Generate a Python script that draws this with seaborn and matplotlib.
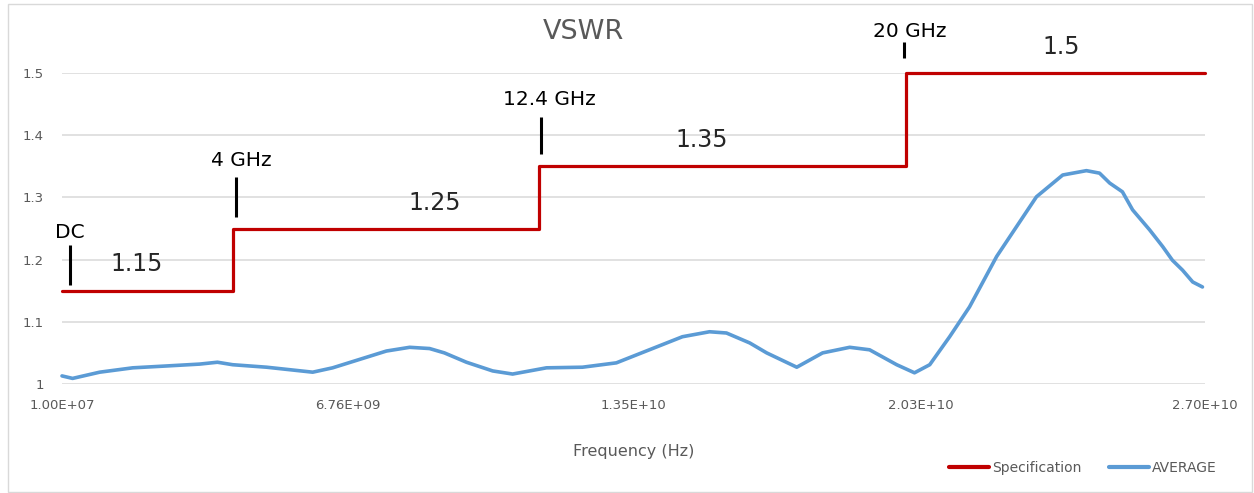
import matplotlib
matplotlib.use("Agg")
import matplotlib.pyplot as plt
import seaborn as sns
import pandas as pd
from matplotlib.patches import Rectangle

# ---- data ----
spec_freq = [1.0e7, 4.05e9, 11.27e9, 19.94e9, 2.70e10]
spec_vswr = [1.15, 1.25, 1.35, 1.50, 1.50]

avg_freq_ghz = [0.01, 0.26, 0.90, 1.68, 2.48, 3.26, 3.68, 4.04, 4.84, 5.93, 6.40,
                7.20, 7.67, 8.22, 8.69, 9.04, 9.56, 10.18, 10.65, 11.45, 12.30,
                13.10, 13.88, 14.66, 15.30, 15.70, 16.25, 16.65, 17.36, 17.97,
                18.61, 19.08, 19.72, 20.14, 20.50, 20.97, 21.44, 22.08, 22.55,
                23.02, 23.64, 24.20, 24.51, 24.75, 25.05, 25.29, 25.69, 26.00,
                26.23, 26.47, 26.71, 26.94]
avg_vswr = [1.013, 1.009, 1.019, 1.026, 1.029, 1.032, 1.035, 1.031, 1.027, 1.019, 1.026,
            1.043, 1.053, 1.059, 1.057, 1.050, 1.035, 1.021, 1.016, 1.026, 1.027,
            1.034, 1.055, 1.076, 1.084, 1.082, 1.066, 1.050, 1.027, 1.050,
            1.059, 1.055, 1.031, 1.018, 1.031, 1.076, 1.124, 1.205, 1.253,
            1.301, 1.336, 1.343, 1.339, 1.323, 1.309, 1.280, 1.248, 1.221,
            1.199, 1.183, 1.164, 1.156]

xtick_vals = [1.0e7, 6.76e9, 1.35e10, 2.03e10, 2.70e10]
xtick_labels = ["1.00E+07", "6.76E+09", "1.35E+10", "2.03E+10", "2.70E+10"]
ytick_vals = [1.0, 1.1, 1.2, 1.3, 1.4, 1.5]
ytick_labels = ["1", "1.1", "1.2", "1.3", "1.4", "1.5"]

band_labels = ["DC", "4 GHz", "12.4 GHz", "20 GHz"]
band_label_x = [0.19e9, 4.25e9, 11.52e9, 20.02e9]
band_label_y = [1.243, 1.359, 1.458, 1.566]
band_tick_x = [0.19e9, 4.13e9, 11.33e9, 19.90e9]
band_tick_y0 = [1.159, 1.268, 1.370, 1.524]
band_tick_y1 = [1.2235, 1.333, 1.429, 1.550]

limit_labels = ["1.15", "1.25", "1.35", "1.5"]
limit_x = [1.77e9, 8.81e9, 15.11e9, 23.61e9]
limit_y = [1.193, 1.291, 1.392, 1.542]

RED = "#C00000"
BLUE = "#5B9BD5"
GRAY = "#595959"

sns.set_theme(style="white")
plt.rcParams["font.family"] = ["DejaVu Sans"]

fig = plt.figure(figsize=(12.54, 4.93), dpi=100)
ax = fig.add_axes([62 / 1254, 1 - 384 / 493, (1205 - 62) / 1254, (384 - 73) / 493])

spec_df = pd.DataFrame({"Frequency": spec_freq, "VSWR": spec_vswr})
avg_df = pd.DataFrame({"Frequency": [f * 1e9 for f in avg_freq_ghz], "VSWR": avg_vswr})

sns.lineplot(data=spec_df, x="Frequency", y="VSWR", ax=ax, color=RED, lw=2.3,
             drawstyle="steps-post", label="Specification", clip_on=False, zorder=3)
sns.lineplot(data=avg_df, x="Frequency", y="VSWR", ax=ax, color=BLUE, lw=2.6,
             label="AVERAGE", clip_on=False, zorder=3)

ax.set_xlim(1.0e7, 2.70e10)
ax.set_ylim(1.0, 1.5)
ax.set_xticks(xtick_vals)
ax.set_xticklabels(xtick_labels)
ax.set_yticks(ytick_vals)
ax.set_yticklabels(ytick_labels)
ax.tick_params(axis="both", length=0, labelsize=9.5, colors=GRAY)
ax.tick_params(axis="x", pad=11)
ax.tick_params(axis="y", pad=13)
ax.yaxis.grid(True, color="#D9D9D9", lw=1.1)
ax.xaxis.grid(False)
for s in ax.spines.values():
    s.set_visible(False)
ax.set_ylabel("")
ax.set_xlabel("Frequency (Hz)", fontsize=11.5, color=GRAY, labelpad=23)

# band edge annotations
for lab, lx, ly in zip(band_labels, band_label_x, band_label_y):
    ax.text(lx, ly, lab, ha="center", va="center", fontsize=14.5, color="black", clip_on=False)
for tx, y0, y1 in zip(band_tick_x, band_tick_y0, band_tick_y1):
    ax.plot([tx, tx], [y0, y1], color="black", lw=2.2, clip_on=False, solid_capstyle="butt")
for lab, lx, ly in zip(limit_labels, limit_x, limit_y):
    ax.text(lx, ly, lab, ha="center", va="center", fontsize=17, color="#262626", clip_on=False)

fig.text(583 / 1254, 1 - 32 / 493, "VSWR", ha="center", va="center", fontsize=19.5, color=GRAY)

ax.get_legend().remove()
handles, labels = ax.get_legend_handles_labels()
leg = fig.legend(handles, labels, loc="center", bbox_to_anchor=(1083 / 1254, 1 - 468 / 493),
                 ncol=2, frameon=False, fontsize=10, handlelength=2.9, handletextpad=0.2,
                 columnspacing=2.0)
for t in leg.get_texts():
    t.set_color(GRAY)
for h in leg.get_lines():
    h.set_linewidth(3)

fig.add_artist(Rectangle((8 / 1254, 1 / 493), (1252 - 8) / 1254, (488) / 493,
                         transform=fig.transFigure, fill=False, edgecolor="#D9D9D9", lw=1))

fig.savefig("out.png", dpi=100, facecolor="white")
